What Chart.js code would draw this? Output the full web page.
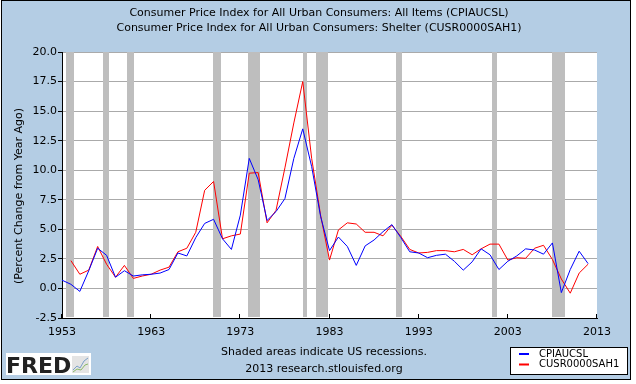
<!DOCTYPE html>
<html>
<head>
<meta charset="utf-8">
<script src="https://cdn.jsdelivr.net/npm/chart.js@4"></script>
<style>
  body { margin: 0; background: #fff; }
  canvas { display: block; }
</style>
</head>
<body>
<canvas id="chart" width="636" height="384"></canvas>
<script>
// years on the x axis (annual data)
const years = [1953, 1954, 1955, 1956, 1957, 1958, 1959, 1960, 1961, 1962,
  1963, 1964, 1965, 1966, 1967, 1968, 1969, 1970, 1971, 1972,
  1973, 1974, 1975, 1976, 1977, 1978, 1979, 1980, 1981, 1982,
  1983, 1984, 1985, 1986, 1987, 1988, 1989, 1990, 1991, 1992,
  1993, 1994, 1995, 1996, 1997, 1998, 1999, 2000, 2001, 2002,
  2003, 2004, 2005, 2006, 2007, 2008, 2009, 2010, 2011, 2012];

// CPIAUCSL, percent change from year ago
const cpiAll = [0.7, 0.35, -0.25, 1.5, 3.4, 2.8, 0.95, 1.5, 1.05, 1.15,
  1.2, 1.3, 1.6, 3.0, 2.75, 4.3, 5.5, 5.85, 4.2, 3.3,
  6.2, 11.0, 9.2, 5.75, 6.5, 7.6, 11.0, 13.5, 10.3, 6.1,
  3.2, 4.35, 3.55, 1.95, 3.6, 4.1, 4.8, 5.4, 4.3, 3.1,
  3.0, 2.6, 2.8, 2.9, 2.3, 1.55, 2.25, 3.35, 2.85, 1.6,
  2.3, 2.75, 3.35, 3.25, 2.9, 3.85, -0.35, 1.6, 3.15, 2.1];

// CUSR0000SAH1 (shelter), percent change from year ago
const cpiShelter = [null, 2.35, 1.2, 1.55, 3.55, 2.05, 0.95, 1.95, 0.85, 1.05,
  1.2, 1.55, 1.8, 3.1, 3.4, 4.75, 8.3, 9.05, 4.2, 4.45,
  4.6, 9.75, 9.8, 5.55, 6.6, 10.2, 14.0, 17.5, 11.0, 6.2,
  2.4, 4.95, 5.55, 5.45, 4.75, 4.75, 4.45, 5.35, 4.4, 3.3,
  3.0, 3.05, 3.2, 3.2, 3.1, 3.3, 2.85, 3.35, 3.75, 3.75,
  2.4, 2.6, 2.55, 3.4, 3.65, 2.45, 0.8, -0.4, 1.3, 2.05];

// US recessions (start, end) in fractional years
const recessions = [[1953.5, 1954.4], [1957.58, 1958.29], [1960.29, 1961.08],
  [1969.92, 1970.87], [1973.83, 1975.2], [1980.0, 1980.5], [1981.5, 1982.87],
  [1990.5, 1991.17], [2001.17, 2001.83], [2007.92, 2009.42]];

const xTicks = [1953, 1963, 1973, 1983, 1993, 2003, 2013];

const titleLines = [
  'Consumer Price Index for All Urban Consumers: All Items (CPIAUCSL)',
  'Consumer Price Index for All Urban Consumers: Shelter (CUSR0000SAH1)'
];
const yTitle = '(Percent Change from Year Ago)';
const noteLines = ['Shaded areas indicate US recessions.', '2013 research.stlouisfed.org'];

const FONT = '"DejaVu Sans", sans-serif';

function toPoints(values) {
  return years.map((yr, i) => ({ x: yr, y: values[i] }));
}

// background, frame and white plot area
const fredBackground = {
  id: 'fredBackground',
  beforeDraw(chart) {
    const ctx = chart.ctx;
    const a = chart.chartArea;
    ctx.save();
    ctx.fillStyle = '#fff';
    ctx.fillRect(0, 0, chart.width, chart.height);
    ctx.fillStyle = '#b4cde4';
    ctx.fillRect(1, 0, 630, 380);
    ctx.strokeStyle = '#000';
    ctx.lineWidth = 1;
    ctx.strokeRect(1.5, 0.5, 629, 379);
    ctx.fillStyle = '#fff';
    ctx.fillRect(a.left, a.top, a.right - a.left, a.bottom - a.top);
    ctx.restore();
  }
};

// gray recession bars and small inward ticks on the x axis
const recessionBars = {
  id: 'recessionBars',
  beforeDatasetsDraw(chart) {
    const ctx = chart.ctx;
    const a = chart.chartArea;
    const x = chart.scales.x;
    ctx.save();
    ctx.fillStyle = '#bebebe';
    recessions.forEach(([s, e]) => {
      const x0 = Math.round(x.getPixelForValue(s));
      const x1 = Math.round(x.getPixelForValue(e));
      ctx.fillRect(x0, a.top, Math.max(1, x1 - x0), a.bottom - a.top - 1);
    });
    ctx.strokeStyle = '#000';
    ctx.lineWidth = 1;
    xTicks.forEach(v => {
      const px = Math.round(x.getPixelForValue(v)) - 0.5;
      ctx.beginPath();
      ctx.moveTo(px, a.bottom);
      ctx.lineTo(px, a.bottom - 4);
      ctx.stroke();
    });
    ctx.restore();
  }
};

// titles, notes, legend box and logo
const fredDecor = {
  id: 'fredDecor',
  afterDraw(chart) {
    const ctx = chart.ctx;
    ctx.save();
    ctx.fillStyle = '#000';
    ctx.font = '11px ' + FONT;
    ctx.textAlign = 'center';
    ctx.textBaseline = 'middle';
    ctx.fillText(titleLines[0], 319, 13);
    ctx.fillText(titleLines[1], 319, 28);
    ctx.fillText(noteLines[0], 324, 352);
    ctx.fillText(noteLines[1], 324, 369);

    ctx.save();
    ctx.translate(19, 196);
    ctx.rotate(-Math.PI / 2);
    ctx.fillText(yTitle, 0, 0);
    ctx.restore();

    // legend
    ctx.fillStyle = '#fff';
    ctx.fillRect(510, 347, 118, 27);
    ctx.strokeStyle = '#000';
    ctx.lineWidth = 1;
    ctx.strokeRect(510.5, 347.5, 117, 27);
    ctx.font = '10px ' + FONT;
    ctx.textAlign = 'left';
    chart.data.datasets.forEach((ds, i) => {
      const y = 354 + i * 10.5;
      ctx.fillStyle = ds.borderColor;
      ctx.fillRect(519, y - 1, 10, 2);
      ctx.fillStyle = '#000';
      ctx.fillText(ds.label, 539, y);
    });

    // FRED logo
    ctx.fillStyle = '#fff';
    ctx.fillRect(6, 353, 85, 22);
    ctx.fillStyle = '#222';
    ctx.font = 'bold 22px ' + FONT;
    ctx.textBaseline = 'alphabetic';
    ctx.fillText('FRED', 6, 373);
    ctx.fillStyle = '#e4e4e4';
    ctx.fillRect(72, 356, 17, 17);
    ctx.lineWidth = 1;
    ctx.strokeStyle = '#7aa0c8';
    ctx.beginPath();
    ctx.moveTo(73, 370); ctx.lineTo(77, 366); ctx.lineTo(80, 368); ctx.lineTo(84, 361); ctx.lineTo(88, 358);
    ctx.stroke();
    ctx.strokeStyle = '#8cba6a';
    ctx.beginPath();
    ctx.moveTo(73, 372); ctx.lineTo(77, 369); ctx.lineTo(81, 370); ctx.lineTo(85, 365); ctx.lineTo(88, 364);
    ctx.stroke();
    ctx.restore();
  }
};

new Chart(document.getElementById('chart'), {
  type: 'line',
  data: {
    datasets: [
      { label: 'CPIAUCSL', data: toPoints(cpiAll), borderColor: '#0000ff', borderWidth: 1,
        pointRadius: 0, tension: 0 },
      { label: 'CUSR0000SAH1', data: toPoints(cpiShelter), borderColor: '#ff0000', borderWidth: 1,
        pointRadius: 0, tension: 0 }
    ]
  },
  options: {
    responsive: false,
    animation: false,
    devicePixelRatio: 1,
    layout: { padding: { top: 52, right: 39, bottom: 36, left: 0 } },
    plugins: {
      legend: { display: false },
      title: { display: false },
      tooltip: { enabled: false }
    },
    scales: {
      x: {
        type: 'linear',
        min: 1953,
        max: 2013,
        afterBuildTicks: s => { s.ticks = xTicks.map(v => ({ value: v })); },
        afterFit: s => { s.height = 30; },
        ticks: {
          callback: v => String(v),
          color: '#000',
          font: { family: FONT, size: 11 },
          padding: 8,
          maxRotation: 0,
          autoSkip: false
        },
        grid: { drawOnChartArea: false, drawTicks: false },
        border: { color: '#000', width: 1 }
      },
      y: {
        min: -2.5,
        max: 20,
        afterFit: s => { s.width = 62; },
        ticks: {
          stepSize: 2.5,
          callback: v => v.toFixed(1),
          color: '#000',
          font: { family: FONT, size: 11 },
          padding: 1
        },
        grid: { color: '#aaaaaa', tickColor: '#000', tickLength: 4 },
        border: { color: '#000', width: 1 }
      }
    }
  },
  plugins: [fredBackground, recessionBars, fredDecor]
});
</script>
</body>
</html>
